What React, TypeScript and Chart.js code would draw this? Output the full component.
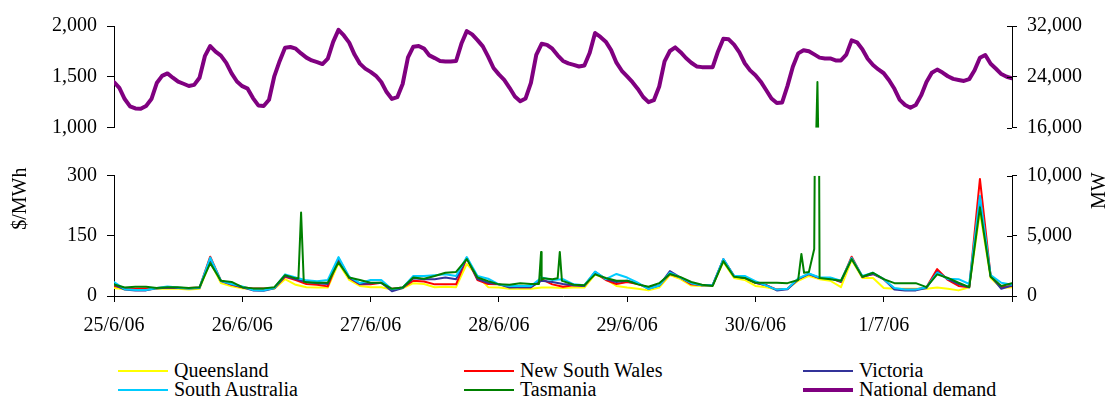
import React, { useEffect, useRef } from 'react';
import { Chart, registerables } from 'chart.js';

Chart.register(...registerables);

const FONT = '"Liberation Serif", "Times New Roman", Times, serif';

// x ticks: one per day (hours since 25/6/06 00:00)
const DAY_LABELS = ['25/6/06', '26/6/06', '27/6/06', '28/6/06', '29/6/06', '30/6/06', '1/7/06', ''];

// price time grid (hours since 25/6/06 00:00), every 2 hours
const HOURS = [
  0, 2, 4, 6, 8, 10, 12, 14, 16, 18, 20, 22,
  24, 26, 28, 30, 32, 34, 36, 38, 40, 42, 44, 46,
  48, 50, 52, 54, 56, 58, 60, 62, 64, 66, 68, 70,
  72, 74, 76, 78, 80, 82, 84, 86, 88, 90, 92, 94,
  96, 98, 100, 102, 104, 106, 108, 110, 112, 114, 116, 118,
  120, 122, 124, 126, 128, 130, 132, 134, 136, 138, 140, 142,
  144, 146, 148, 150, 152, 154, 156, 158, 160, 162, 164, 166, 168,
];

// demand time grid (hours since 25/6/06 00:00), hourly
const DEMAND_HOURS = [
  0, 1, 2, 3, 4, 5, 6, 7, 8, 9, 10, 11, 12, 13, 14, 15, 16, 17, 18, 19, 20, 21, 22, 23,
  24, 25, 26, 27, 28, 29, 30, 31, 32, 33, 34, 35, 36, 37, 38, 39, 40, 41, 42, 43, 44, 45, 46, 47,
  48, 49, 50, 51, 52, 53, 54, 55, 56, 57, 58, 59, 60, 61, 62, 63, 64, 65, 66, 67, 68, 69, 70, 71,
  72, 73, 74, 75, 76, 77, 78, 79, 80, 81, 82, 83, 84, 85, 86, 87, 88, 89, 90, 91, 92, 93, 94, 95,
  96, 97, 98, 99, 100, 101, 102, 103, 104, 105, 106, 107, 108, 109, 110, 111, 112, 113, 114, 115, 116, 117, 118, 119,
  120, 121, 122, 123, 124, 125, 126, 127, 128, 129, 130, 131, 132, 133, 134, 135, 136, 137, 138, 139, 140, 141, 142, 143,
  144, 145, 146, 147, 148, 149, 150, 151, 152, 153, 154, 155, 156, 157, 158, 159, 160, 161, 162, 163, 164, 165, 166, 167, 168,
];

// National demand (MW), hourly
const DEMAND = [
  23200, 22270, 20530, 19380, 19050, 18990, 19450, 20530, 23040, 24160, 24550, 23880,
  23250, 22930, 22580, 22750, 23870, 27260, 28850, 27980, 27350, 26210, 24550, 23280,
  22550, 22160, 20680, 19530, 19440, 20410, 24140, 26520, 28570, 28700, 28440, 27690,
  27030, 26590, 26330, 26020, 26870, 29500, 31400, 30510, 29380, 27510, 26090, 25310,
  24800, 24180, 23210, 21620, 20550, 20820, 22890, 27060, 28750, 28850, 28450, 27380,
  26960, 26510, 26440, 26440, 26500, 29240, 31200, 30680, 29780, 28800, 27200, 25400,
  24400, 23530, 22290, 20930, 20170, 20620, 23060, 27450, 29200, 29040, 28430, 27390,
  26510, 26130, 25900, 25640, 25800, 27800, 30900, 30280, 29540, 28210, 26240, 24970,
  24090, 23170, 22120, 20850, 20040, 20340, 22500, 26450, 28070, 28640, 27890, 26970,
  26230, 25650, 25540, 25540, 25540, 28000, 29990, 29910, 29070, 27840, 26150, 25030,
  24280, 23250, 21950, 20610, 19900, 20000, 22600, 25600, 27700, 28200, 28030, 27540,
  27030, 26900, 26900, 26600, 26600, 27500, 29750, 29440, 28350, 26860, 25870, 25170,
  24580, 23480, 22140, 20390, 19590, 19170, 19590, 21100, 23200, 24660, 25150, 24690,
  24110, 23700, 23530, 23370, 23660, 25040, 27020, 27450, 26070, 25290, 24450, 24030, 23800,
];

// Regional prices ($/MWh), every 2 hours
const QLD = [
  20, 17, 16, 17, 18, 19, 18, 16, 18, 85, 32, 24,
  19, 16, 16, 18, 42, 28, 22, 21, 21, 82, 40, 25,
  22, 22, 16, 19, 32, 30, 22, 23, 22, 80, 50, 22,
  21, 18, 18, 18, 21, 21, 20, 21, 21, 54, 42, 25,
  21, 18, 14, 21, 52, 42, 26, 25, 26, 85, 45, 40,
  25, 22, 16, 18, 38, 50, 42, 38, 22, 90, 45, 45,
  20, 18, 18, 18, 18, 21, 18, 14, 22, 210, 45, 20, 22,
];
const NSW = [
  25, 19, 18, 19, 20, 21, 20, 20, 21, 98, 38, 28,
  22, 19, 19, 20, 48, 40, 30, 28, 24, 92, 45, 29,
  29, 33, 18, 21, 38, 36, 29, 29, 29, 95, 40, 30,
  29, 24, 22, 22, 42, 29, 23, 27, 25, 58, 40, 30,
  35, 30, 21, 26, 55, 46, 29, 27, 27, 90, 50, 45,
  33, 27, 16, 18, 42, 55, 45, 45, 35, 98, 48, 55,
  42, 18, 16, 16, 22, 67, 40, 25, 22, 292, 50, 22, 25,
];
const VIC = [
  28, 16, 14, 14, 19, 21, 20, 19, 20, 92, 37, 29,
  22, 14, 13, 19, 50, 42, 35, 32, 30, 94, 46, 30,
  32, 33, 12, 20, 44, 42, 42, 46, 42, 95, 42, 33,
  29, 21, 22, 22, 38, 35, 30, 27, 25, 60, 42, 35,
  38, 32, 18, 26, 62, 46, 32, 27, 27, 92, 50, 45,
  33, 27, 14, 17, 42, 55, 45, 45, 36, 94, 48, 55,
  42, 16, 14, 14, 20, 60, 42, 30, 22, 240, 50, 18, 26,
];
const SA = [
  35, 17, 15, 15, 20, 24, 21, 19, 21, 96, 38, 30,
  24, 15, 14, 20, 54, 46, 39, 37, 40, 97, 48, 32,
  40, 40, 17, 21, 50, 50, 52, 54, 50, 97, 50, 43,
  29, 25, 25, 25, 46, 40, 42, 29, 27, 61, 42, 55,
  46, 33, 18, 26, 58, 46, 32, 27, 27, 92, 50, 50,
  37, 26, 16, 18, 44, 56, 46, 46, 38, 95, 50, 58,
  42, 20, 16, 16, 22, 58, 43, 42, 30, 250, 52, 33, 28,
];
const TAS = [
  29, 21, 23, 23, 20, 22, 22, 20, 22, 82, 38, 35,
  22, 19, 19, 22, 52, 44, 34, 33, 33, 84, 46, 40,
  33, 33, 18, 21, 46, 43, 50, 58, 60, 92, 46, 37,
  29, 28, 32, 30, 40, 42, 37, 28, 27, 54, 45, 38,
  38, 29, 23, 32, 55, 47, 35, 28, 25, 87, 48, 45,
  33, 33, 33, 32, 40, 60, 45, 42, 38, 92, 48, 58,
  42, 32, 32, 32, 22, 54, 45, 33, 22, 221, 48, 25, 32,
];
// short Tasmanian price spikes between grid points
const TAS_SPIKE_HOURS = [34.5, 35, 35.5, 79.5, 79.9, 80.3, 83.0, 83.4, 83.8, 128.1, 128.6, 129.1, 131.0, 131.6];
const TAS_SPIKE_VALUES = [44, 208, 36, 30, 110, 44, 44, 110, 38, 40, 105, 58, 117, 1450];

const toPoints = (hours: number[], values: number[]) => hours.map((h, i) => ({ x: h, y: values[i] }));

const clipPlugin = {
  id: 'panelClip',
  beforeDatasetDraw(chart: any, args: any) {
    const ys = chart.scales[args.meta.yAxisID];
    const { left, right } = chart.chartArea;
    const ctx = chart.ctx;
    const extraBottom = args.meta.yAxisID === 'yPLow' ? 3 : 0;
    const extraTop = args.meta.yAxisID === 'yMHigh' ? 3 : 0;
    ctx.save();
    ctx.beginPath();
    ctx.rect(left, ys.top - extraTop, right - left, ys.bottom - ys.top + extraTop + extraBottom);
    ctx.clip();
  },
  afterDatasetDraw(chart: any) {
    chart.ctx.restore();
  },
};

const decoPlugin = {
  id: 'deco',
  afterDraw(chart: any) {
    const ctx = chart.ctx;
    ctx.save();
    ctx.strokeStyle = '#000';
    ctx.lineWidth = 1;
    ['yMHigh', 'yMLow'].forEach((id) => {
      const s = chart.scales[id];
      s.ticks.forEach((t: any) => {
        const y = Math.round(s.getPixelForValue(t.value)) + 0.5;
        ctx.beginPath();
        ctx.moveTo(s.left - 5, y);
        ctx.lineTo(s.left, y);
        ctx.stroke();
      });
    });
    ctx.fillStyle = '#000';
    ctx.font = `20px ${FONT}`;
    ctx.textAlign = 'center';
    ctx.textBaseline = 'middle';
    const drawRot = (text: string, x: number, y: number) => {
      ctx.save();
      ctx.translate(x, y);
      ctx.rotate(-Math.PI / 2);
      ctx.fillText(text, 0, 0);
      ctx.restore();
    };
    drawRot('$/MWh', 21, chart.scales.yPLow.top + 23);
    drawRot('MW', 1100, chart.scales.yMLow.top + 15);
    ctx.restore();
  },
};

const tickFont = { family: FONT, size: 20 };

function yScale(position: 'left' | 'right', extra: any) {
  return {
    type: 'linear',
    position,
    stack: position,
    border: { display: true, color: '#000', width: 1 },
    grid: { display: true, drawOnChartArea: false, drawTicks: true, tickLength: position === 'left' ? 7 : 5, color: '#000' },
    afterFit: (s: any) => {
      s.width = position === 'left' ? 114 : 98;
    },
    ...extra,
    ticks: { font: tickFont, color: '#000', padding: 10, ...(extra.ticks || {}) },
  };
}

const LEGEND = [
  { label: 'Queensland', color: '#FFFF00', w: 2, left: 118, top: 360 },
  { label: 'New South Wales', color: '#FF0000', w: 2, left: 464, top: 360 },
  { label: 'Victoria', color: '#333399', w: 2, left: 803, top: 360 },
  { label: 'South Australia', color: '#00CCFF', w: 2, left: 118, top: 379 },
  { label: 'Tasmania', color: '#008000', w: 2, left: 464, top: 379 },
  { label: 'National demand', color: '#800080', w: 4, left: 803, top: 379 },
];

export default function App() {
  const canvasRef = useRef<HTMLCanvasElement | null>(null);

  useEffect(() => {
    if (!canvasRef.current) return;
    const tasPoints = [...toPoints(HOURS, TAS), ...toPoints(TAS_SPIKE_HOURS, TAS_SPIKE_VALUES)].sort((a, b) => a.x - b.x);
    const line = (label: string, data: any[], yAxisID: string, color: string, width: number, order: number) => ({
      label,
      data,
      yAxisID,
      borderColor: color,
      backgroundColor: color,
      borderWidth: width,
      order,
      pointRadius: 0,
      tension: 0,
      fill: false,
    });
    const chart = new Chart(canvasRef.current, {
      type: 'line',
      data: {
        datasets: [
          line('National demand', toPoints(DEMAND_HOURS, DEMAND), 'yMHigh', '#800080', 4, 0),
          line('Tasmania', tasPoints, 'yPLow', '#008000', 2, 1),
          line('Tasmania ', tasPoints, 'yPHigh', '#008000', 2, 1),
          line('South Australia', toPoints(HOURS, SA), 'yPLow', '#00CCFF', 2, 2),
          line('Victoria', toPoints(HOURS, VIC), 'yPLow', '#333399', 2, 3),
          line('New South Wales', toPoints(HOURS, NSW), 'yPLow', '#FF0000', 2, 4),
          line('Queensland', toPoints(HOURS, QLD), 'yPLow', '#FFFF00', 2, 5),
        ],
      },
      options: {
        animation: false,
        responsive: false,
        events: [],
        layout: { padding: { top: 26, left: 0, right: 0, bottom: 8 } },
        plugins: { legend: { display: false }, tooltip: { enabled: false } },
        elements: { line: { borderJoinStyle: 'round', borderCapStyle: 'round' } },
        scales: {
          x: {
            type: 'linear',
            position: 'bottom',
            min: 0,
            max: 168,
            border: { display: true, color: '#000', width: 1 },
            grid: { display: true, drawOnChartArea: false, drawTicks: true, tickLength: 6, color: '#000' },
            ticks: {
              stepSize: 24,
              autoSkip: false,
              maxRotation: 0,
              font: tickFont,
              color: '#000',
              padding: 12,
              callback: (v: any) => DAY_LABELS[Math.round(Number(v) / 24)] ?? '',
            },
          },
          yPHigh: yScale('left', { weight: 3, stackWeight: 101.6, min: 1000, max: 2000, ticks: { stepSize: 500 } }),
          yPGap: { type: 'linear', position: 'left', stack: 'left', weight: 2, stackWeight: 47.7, display: false },
          yPLow: yScale('left', { weight: 1, stackWeight: 120, min: 0, max: 300, ticks: { stepSize: 150 } }),
          yMHigh: yScale('right', { weight: 1, stackWeight: 101.6, min: 16000, max: 32000, ticks: { stepSize: 8000 } }),
          yMGap: { type: 'linear', position: 'right', stack: 'right', weight: 2, stackWeight: 47.7, display: false },
          yMLow: yScale('right', { weight: 3, stackWeight: 120, min: 0, max: 10000, ticks: { stepSize: 5000 } }),
        } as any,
      },
      plugins: [clipPlugin, decoPlugin],
    } as any);
    return () => chart.destroy();
  }, []);

  return (
    <div style={{ position: 'absolute', left: 0, top: 0, width: 1110, height: 396, overflow: 'hidden', background: '#fff' }}>
      <canvas ref={canvasRef} width={1110} height={358} style={{ position: 'absolute', left: 0, top: 0, width: 1110, height: 358 }} />
      {LEGEND.map((item) => (
        <div
          key={item.label}
          style={{
            position: 'absolute',
            left: item.left,
            top: item.top,
            height: 20,
            display: 'flex',
            alignItems: 'center',
            fontFamily: FONT,
            fontSize: 20,
            lineHeight: '20px',
            color: '#000',
            whiteSpace: 'nowrap',
          }}
        >
          <span style={{ display: 'inline-block', width: 50, height: item.w, background: item.color, marginRight: 6, marginTop: 2 }} />
          <span>{item.label}</span>
        </div>
      ))}
    </div>
  );
}
